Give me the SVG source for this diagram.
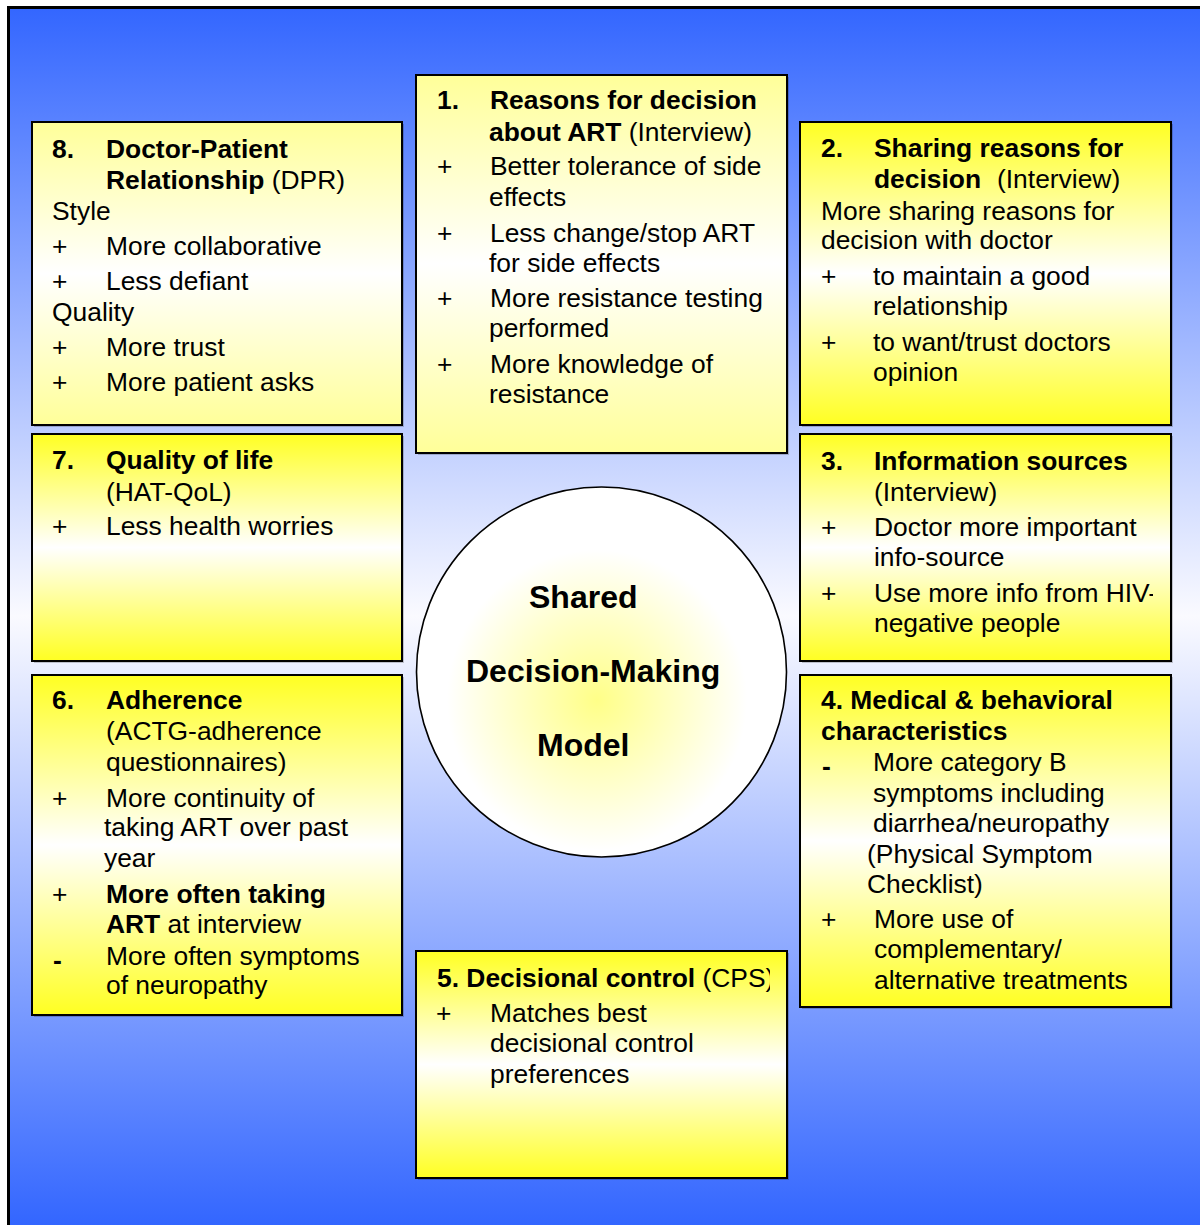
<svg xmlns="http://www.w3.org/2000/svg" width="1200" height="1225" viewBox="0 0 1200 1225">
<defs>
<linearGradient id="bg" x1="0" y1="7" x2="0" y2="1225" gradientUnits="userSpaceOnUse">
<stop offset="0" stop-color="#3366FF"/>
<stop offset="0.5" stop-color="#FAFAFF"/>
<stop offset="1" stop-color="#3366FF"/>
</linearGradient>
<linearGradient id="yb" x1="0" y1="0" x2="0" y2="1">
<stop offset="0" stop-color="#FFFF22"/>
<stop offset="0.5" stop-color="#FFFFFF"/>
<stop offset="1" stop-color="#FFFF22"/>
</linearGradient>
<linearGradient id="yp" x1="0" y1="0" x2="0" y2="1">
<stop offset="0" stop-color="#FFFF99"/>
<stop offset="0.5" stop-color="#FFFFFF"/>
<stop offset="1" stop-color="#FFFF99"/>
</linearGradient>
<radialGradient id="cg" cx="597" cy="700" r="200" gradientUnits="userSpaceOnUse">
<stop offset="0" stop-color="#FFFF88"/>
<stop offset="0.75" stop-color="#FFFFFF"/>
<stop offset="1" stop-color="#FFFFFF"/>
</radialGradient>
<clipPath id="c3"><rect x="800" y="434" width="353" height="227"/></clipPath>
<clipPath id="c5"><rect x="416" y="951" width="354" height="227"/></clipPath>
</defs>
<style>
.box{stroke:#000;stroke-width:2}
.sh{fill:#000;opacity:0.2}
.t{font-family:"Liberation Sans",Arial,Helvetica,sans-serif;font-size:26.4px;fill:#000}
.b{font-weight:bold}
.c{font-family:"Liberation Sans",Arial,Helvetica,sans-serif;font-size:32px;font-weight:bold;fill:#000}
</style>
<rect x="8.5" y="7.5" width="1200" height="1230" fill="url(#bg)" stroke="#000" stroke-width="3"/>
<g id="connectors"/>

<g id="box8">
<rect class="sh" x="34" y="124" width="370" height="303"/>
<rect class="box" x="32" y="122" width="370" height="303" fill="url(#yp)"/>
<text class="t b" x="52" y="158">8.</text><text class="t b" x="106" y="158">Doctor-Patient</text>
<text class="t" x="106" y="189"><tspan class="b">Relationship</tspan> (DPR)</text>
<text class="t" x="52" y="220">Style</text>
<text class="t" x="52" y="255">+</text><text class="t" x="106" y="255">More collaborative</text>
<text class="t" x="52" y="290">+</text><text class="t" x="106" y="290">Less defiant</text>
<text class="t" x="52" y="321">Quality</text>
<text class="t" x="52" y="356">+</text><text class="t" x="106" y="356">More trust</text>
<text class="t" x="52" y="391">+</text><text class="t" x="106" y="391">More patient asks</text>
</g>

<g id="box1">
<rect class="sh" x="418" y="77" width="371" height="378"/>
<rect class="box" x="416" y="75" width="371" height="378" fill="url(#yp)"/>
<text class="t b" x="437" y="109">1.</text><text class="t b" x="490" y="109">Reasons for decision</text>
<text class="t" x="489" y="141"><tspan class="b">about ART</tspan> (Interview)</text>
<text class="t" x="437" y="175">+</text><text class="t" x="490" y="175">Better tolerance of side</text>
<text class="t" x="489" y="206">effects</text>
<text class="t" x="437" y="242">+</text><text class="t" x="490" y="242">Less change/stop ART</text>
<text class="t" x="489" y="272">for side effects</text>
<text class="t" x="437" y="307">+</text><text class="t" x="490" y="307">More resistance testing</text>
<text class="t" x="489" y="337">performed</text>
<text class="t" x="437" y="373">+</text><text class="t" x="490" y="373">More knowledge of</text>
<text class="t" x="489" y="403">resistance</text>
</g>

<g id="box2">
<rect class="sh" x="802" y="124" width="371" height="303"/>
<rect class="box" x="800" y="122" width="371" height="303" fill="url(#yb)"/>
<text class="t b" x="821" y="157">2.</text><text class="t b" x="874" y="157">Sharing reasons for</text>
<text class="t b" x="874" y="188">decision</text><text class="t" x="997" y="188">(Interview)</text>
<text class="t" x="821" y="220">More sharing reasons for</text>
<text class="t" x="821" y="249">decision with doctor</text>
<text class="t" x="821" y="285">+</text><text class="t" x="873" y="285">to maintain a good</text>
<text class="t" x="873" y="315">relationship</text>
<text class="t" x="821" y="351">+</text><text class="t" x="873" y="351">to want/trust doctors</text>
<text class="t" x="873" y="381">opinion</text>
</g>

<g id="box7">
<rect class="sh" x="34" y="436" width="370" height="227"/>
<rect class="box" x="32" y="434" width="370" height="227" fill="url(#yb)"/>
<text class="t b" x="52" y="469">7.</text><text class="t b" x="106" y="469">Quality of life</text>
<text class="t" x="106" y="501">(HAT-QoL)</text>
<text class="t" x="52" y="535">+</text><text class="t" x="106" y="535">Less health worries</text>
</g>

<g id="box3">
<rect class="sh" x="802" y="436" width="371" height="227"/>
<rect class="box" x="800" y="434" width="371" height="227" fill="url(#yb)"/>
<g clip-path="url(#c3)">
<text class="t b" x="821" y="470">3.</text><text class="t b" x="874" y="470">Information sources</text>
<text class="t" x="874" y="501">(Interview)</text>
<text class="t" x="821" y="536">+</text><text class="t" x="874" y="536">Doctor more important</text>
<text class="t" x="874" y="566">info-source</text>
<text class="t" x="821" y="602">+</text><text class="t" x="874" y="602">Use more info from HIV-</text>
<text class="t" x="874" y="632">negative people</text>
</g>
</g>

<g id="box6">
<rect class="sh" x="34" y="677" width="370" height="340"/>
<rect class="box" x="32" y="675" width="370" height="340" fill="url(#yb)"/>
<text class="t b" x="52" y="709">6.</text><text class="t b" x="106" y="709">Adherence</text>
<text class="t" x="106" y="740">(ACTG-adherence</text>
<text class="t" x="106" y="771">questionnaires)</text>
<text class="t" x="52" y="807">+</text><text class="t" x="106" y="807">More continuity of</text>
<text class="t" x="104" y="836">taking ART over past</text>
<text class="t" x="104" y="867">year</text>
<text class="t" x="52" y="903">+</text><text class="t b" x="106" y="903">More often taking</text>
<text class="t" x="106" y="933"><tspan class="b">ART</tspan> at interview</text>
<text class="t b" x="53" y="969">-</text><text class="t" x="106" y="965">More often symptoms</text>
<text class="t" x="106" y="994">of neuropathy</text>
</g>

<g id="box4">
<rect class="sh" x="802" y="677" width="371" height="332"/>
<rect class="box" x="800" y="675" width="371" height="332" fill="url(#yb)"/>
<text class="t b" x="821" y="709">4. Medical &amp; behavioral</text>
<text class="t b" x="821" y="740">characteristics</text>
<text class="t b" x="822" y="775">-</text><text class="t" x="873" y="771">More category B</text>
<text class="t" x="873" y="802">symptoms including</text>
<text class="t" x="873" y="832">diarrhea/neuropathy</text>
<text class="t" x="867" y="863">(Physical Symptom</text>
<text class="t" x="867" y="893">Checklist)</text>
<text class="t" x="821" y="928">+</text><text class="t" x="874" y="928">More use of</text>
<text class="t" x="874" y="958">complementary/</text>
<text class="t" x="874" y="989">alternative treatments</text>
</g>

<g id="box5">
<rect class="sh" x="418" y="953" width="371" height="227"/>
<rect class="box" x="416" y="951" width="371" height="227" fill="url(#yb)"/>
<g clip-path="url(#c5)">
<text class="t" x="437" y="987"><tspan class="b">5. Decisional control</tspan> (CPS)</text>
</g>
<text class="t" x="436" y="1022">+</text><text class="t" x="490" y="1022">Matches best</text>
<text class="t" x="490" y="1052">decisional control</text>
<text class="t" x="490" y="1083">preferences</text>
</g>

<g id="center">
<circle cx="601.5" cy="672" r="185" fill="url(#cg)" stroke="#000" stroke-width="1.6"/>
<text class="c" x="529" y="608">Shared</text>
<text class="c" x="466" y="682">Decision-Making</text>
<text class="c" x="537" y="756">Model</text>
</g>
</svg>
